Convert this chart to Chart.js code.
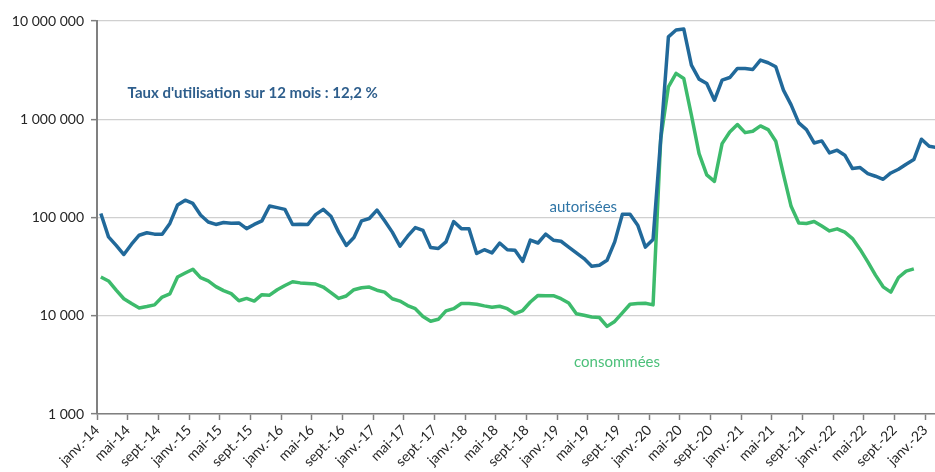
<!DOCTYPE html>
<html lang="fr">
<head>
<meta charset="utf-8">
<title>Taux d'utilisation</title>
<script src="https://cdn.jsdelivr.net/npm/chart.js@4/dist/chart.umd.min.js"></script>
<style>
  html, body { margin: 0; padding: 0; background: #fff; overflow: hidden; }
  #wrap { width: 935px; height: 472px; position: relative; }
</style>
</head>
<body>
<div id="wrap"><canvas id="chart"></canvas></div>
<script>
// mois de janv.-14 à févr.-23
const monthNames = ["janv.", "févr.", "mars", "avr.", "mai", "juin", "juil.", "août", "sept.", "oct.", "nov.", "déc."];
const months = [];
for (let y = 14; y <= 23; y++) {
    for (let m = 0; m < 12; m++) {
        if (y === 23 && m > 1) break;
        months.push(monthNames[m] + "-" + y);
    }
}

// montants autorisés (échelle log)
const autorisees = [
    110000, 63500, 52000, 42000, 53500, 66000, 70000, 67700, 67700, 87000,
    134000, 150000, 139000, 106000, 90000, 85000, 89000, 87500, 88000, 77000,
    85000, 92500, 131000, 126000, 121000, 85000, 85500, 85000, 107000, 121000,
    103000, 71000, 52000, 62500, 92500, 97700, 119000, 92500, 71000, 51000,
    64500, 79000, 74000, 49400, 48300, 56500, 91000, 77000, 77000, 43000,
    47000, 43600, 55000, 47000, 46400, 35800, 58800, 55000, 67600, 58800,
    57300, 50000, 43600, 38200, 31900, 32600, 36700, 56500, 108000, 108000,
    83500, 50000, 59800, 630000, 6900000, 8100000, 8300000, 3560000, 2560000, 2310000,
    1560000, 2500000, 2660000, 3290000, 3290000, 3210000, 4000000, 3760000, 3420000, 1980000,
    1400000, 918000, 785000, 574000, 602000, 455000, 484000, 431000, 315000, 322000,
    280000, 263000, 245000, 284000, 310000, 349000, 389000, 626000, 531000, 515000
];

// montants consommés
const consommees = [
    24800, 22600, 18200, 14900, 13300, 12000, 12400, 12900, 15500, 16700,
    24800, 27200, 29700, 24400, 22600, 19800, 18000, 16800, 14200, 15000,
    14100, 16400, 16200, 18400, 20300, 22200, 21600, 21300, 21000, 19600,
    17200, 15000, 15900, 18400, 19300, 19600, 18200, 17400, 14900, 14100,
    12700, 11800, 9850, 8800, 9200, 11200, 11800, 13300, 13300, 13100,
    12600, 12200, 12500, 11800, 10500, 11300, 13800, 16100, 16000, 16000,
    14900, 13500, 10500, 10100, 9700, 9600, 7800, 8750, 10700, 13100,
    13300, 13400, 12900, 635000, 2140000, 2930000, 2600000, 1100000, 447000, 272000,
    233000, 565000, 743000, 883000, 731000, 755000, 855000, 785000, 597000, 275000,
    130000, 88000, 87000, 91000, 81700, 73000, 76700, 71000, 61000, 47300,
    35400, 25900, 19700, 17400, 24500, 28500, 30000
];

const yTicks = [1000, 10000, 100000, 1000000, 10000000];
const xTickStep = 4;

const BLUE = "#21699a";
const GREEN = "#3dbb6c";

const labels = [
    { text: "Taux d'utilisation sur 12 mois : 12,2 %", x: 19.8, y: 1840000, color: "#2e5e8c", font: "bold 15px Lato" },
    { text: "autorisées", x: 62.9, y: 127000, color: "#2f75a6", font: "15px Lato" },
    { text: "consommées", x: 67.3, y: 3370, color: "#4cc07a", font: "15px Lato" },
];

const textPlugin = {
    id: "textPlugin",
    afterDatasetsDraw(chart) {
        const ctx = chart.ctx;
        const xs = chart.scales.x, ys = chart.scales.y;
        ctx.save();
        ctx.textAlign = "center";
        ctx.textBaseline = "middle";
        labels.forEach(l => {
            ctx.font = l.font;
            ctx.fillStyle = l.color;
            ctx.fillText(l.text, xs.getPixelForValue(l.x), ys.getPixelForValue(l.y));
        });
        ctx.restore();
    }
};

Chart.defaults.font.family = "Lato";
Chart.defaults.font.size = 14;
Chart.defaults.color = "#262626";

new Chart(document.getElementById("chart"), {
    type: "line",
    data: {
        datasets: [
            {
                label: "autorisées",
                data: autorisees.map((v, i) => ({ x: i, y: v })),
                borderColor: BLUE,
                borderWidth: 3.5,
                pointRadius: 0,
                borderJoinStyle: "round",
                tension: 0,
            },
            {
                label: "consommées",
                data: consommees.map((v, i) => ({ x: i, y: v })),
                borderColor: GREEN,
                borderWidth: 3.5,
                pointRadius: 0,
                borderJoinStyle: "round",
                tension: 0,
            }
        ]
    },
    options: {
        responsive: true,
        maintainAspectRatio: false,
        animation: false,
        layout: { padding: { top: 21, right: 0, bottom: 0, left: 0 } },
        plugins: {
            legend: { display: false },
            tooltip: { enabled: false },
        },
        scales: {
            x: {
                type: "linear",
                min: -0.5,
                max: 108.76,
                afterBuildTicks: (s) => {
                    const t = [];
                    for (let i = 0; i < months.length - 1; i += xTickStep) t.push({ value: i - 0.5 });
                    s.ticks = t;
                },
                afterFit: (s) => {
                    s.height = 58;
                    s.paddingLeft = 0;
                    s.paddingRight = 0;
                },
                ticks: {
                    autoSkip: false,
                    minRotation: 45,
                    maxRotation: 45,
                    padding: 2,
                    callback: (v) => months[Math.round(v + 0.5)],
                },
                grid: {
                    drawOnChartArea: false,
                    drawTicks: true,
                    tickLength: 6,
                    tickColor: "#808080",
                    tickWidth: 1.5,
                },
                border: { color: "#808080", width: 1.5 },
            },
            y: {
                type: "logarithmic",
                min: 1000,
                max: 10000000,
                afterBuildTicks: (s) => {
                    s.ticks = yTicks.map(v => ({ value: v }));
                },
                afterFit: (s) => {
                    s.width = 97;
                    s.paddingTop = 0;
                    s.paddingBottom = 0;
                },
                ticks: {
                    padding: 7,
                    callback: (v) => Math.round(v).toString().replace(/\B(?=(\d{3})+(?!\d))/g, " "),
                },
                grid: {
                    color: "#d0d0d0",
                    lineWidth: 1.3,
                    tickLength: 6,
                    tickColor: "#808080",
                    tickWidth: 1.5,
                },
                border: { color: "#808080", width: 2 },
            }
        }
    },
    plugins: [textPlugin]
});
</script>
</body>
</html>
